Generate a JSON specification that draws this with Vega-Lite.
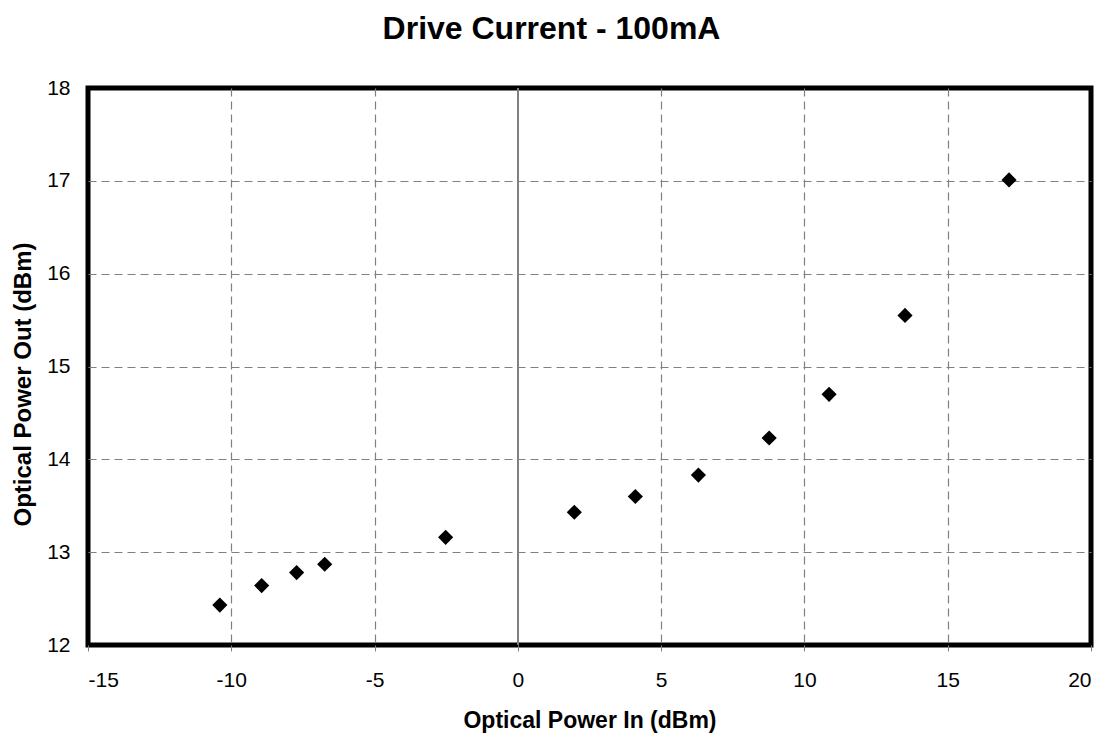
{
  "$schema": "https://vega.github.io/schema/vega-lite/v6.json",
  "width": 1003,
  "height": 557,
  "autosize": {"type": "none"},
  "padding": {"left": 88, "top": 88, "right": 21, "bottom": 91},
  "background": "white",
  "config": {
    "font": "Liberation Sans",
    "view": {"stroke": "black", "strokeWidth": 5}
  },
  "title": {
    "text": "Drive Current - 100mA",
    "fontSize": 32,
    "fontWeight": "bold",
    "font": "Liberation Sans",
    "color": "black",
    "anchor": "middle",
    "baseline": "alphabetic",
    "dx": -38,
    "offset": 6
  },
  "data": {
    "values": [
      {"pin": -10.4, "pout": 12.43},
      {"pin": -8.94, "pout": 12.64},
      {"pin": -7.72, "pout": 12.78},
      {"pin": -6.74, "pout": 12.87},
      {"pin": -2.52, "pout": 13.16},
      {"pin": 1.97, "pout": 13.43},
      {"pin": 4.1, "pout": 13.6},
      {"pin": 6.3, "pout": 13.83},
      {"pin": 8.77, "pout": 14.23},
      {"pin": 10.86, "pout": 14.7},
      {"pin": 13.51, "pout": 15.55},
      {"pin": 17.14, "pout": 17.01}
    ]
  },
  "resolve": {"axis": {"x": "independent", "y": "independent"}},
  "layer": [
    {
      "mark": {"type": "point", "opacity": 0},
      "encoding": {
        "x": {
          "field": "pin",
          "type": "quantitative",
          "scale": {"domain": [-15, 20], "nice": false, "zero": false},
          "axis": {
            "orient": "bottom",
            "title": null,
            "labels": false,
            "ticks": false,
            "domain": false,
            "values": [-10, -5, 5, 10, 15],
            "grid": true,
            "gridColor": "#808080",
            "gridDash": [8, 5],
            "gridWidth": 1.2
          }
        },
        "y": {
          "field": "pout",
          "type": "quantitative",
          "scale": {"domain": [12, 18], "nice": false, "zero": false},
          "axis": {
            "orient": "left",
            "title": null,
            "labels": false,
            "ticks": false,
            "domain": false,
            "values": [13, 14, 15, 16, 17],
            "grid": true,
            "gridColor": "#808080",
            "gridDash": [8, 5],
            "gridWidth": 1.2
          }
        }
      }
    },
    {
      "mark": {"type": "rule", "color": "#808080", "strokeWidth": 1.5},
      "encoding": {
        "x": {"datum": 0, "type": "quantitative", "axis": null}
      }
    },
    {
      "mark": {"type": "point", "shape": "diamond", "filled": true, "color": "black", "opacity": 1, "size": 230},
      "encoding": {
        "x": {
          "field": "pin",
          "type": "quantitative",
          "axis": {
            "orient": "bottom",
            "title": "Optical Power In (dBm)",
            "titleFontSize": 23,
            "titleFontWeight": "bold",
            "titleColor": "black",
            "titlePadding": 19,
            "values": [-15, -10, -5, 0, 5, 10, 15, 20],
            "labelExpr": "replace(datum.label, '\u2212', '-')",
            "labelFontSize": 21,
            "labelColor": "black",
            "labelPadding": 18,
            "domain": false,
            "ticks": true,
            "tickColor": "#808080",
            "tickSize": 6,
            "grid": false
          }
        },
        "y": {
          "field": "pout",
          "type": "quantitative",
          "axis": {
            "orient": "left",
            "title": "Optical Power Out (dBm)",
            "titleFontSize": 24,
            "titleFontWeight": "bold",
            "titleColor": "black",
            "titlePadding": 11,
            "titleY": 296,
            "values": [12, 13, 14, 15, 16, 17, 18],
            "labelFontSize": 21,
            "labelColor": "black",
            "labelPadding": 18,
            "domain": false,
            "ticks": false,
            "grid": false
          }
        }
      }
    }
  ]
}
